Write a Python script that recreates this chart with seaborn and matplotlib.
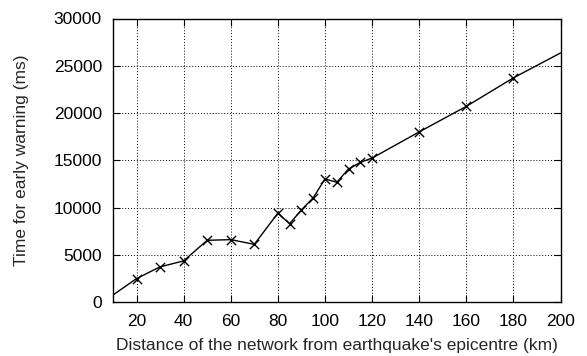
import matplotlib
matplotlib.use("Agg")
import matplotlib.pyplot as plt
import seaborn as sns
import pandas as pd

distance_km = [10, 20, 30, 40, 50, 60, 70, 80, 85, 90, 95, 100, 105, 110, 115, 120, 140, 160, 180, 200]
warning_ms = [740, 2480, 3720, 4350, 6530, 6600, 6100, 9400, 8280, 9750, 11020, 13020, 12670, 14070, 14770, 15230, 18000, 20700, 23720, 26350]
marked = [False] + [True] * 18 + [False]
x_ticks = [20, 40, 60, 80, 100, 120, 140, 160, 180, 200]
y_ticks = [0, 5000, 10000, 15000, 20000, 25000, 30000]

df = pd.DataFrame({"d": distance_km, "t": warning_ms, "m": marked})

sns.set_style("ticks")
plt.rcParams["font.family"] = ["Liberation Sans", "DejaVu Sans"]

fig = plt.figure(figsize=(5.87, 3.56), dpi=100)
ax = fig.add_axes([113 / 587, 1 - 302 / 356, (560.5 - 113) / 587, (302 - 18.5) / 356])

sns.lineplot(data=df, x="d", y="t", ax=ax, color="black", linewidth=1.0, zorder=3)
sns.scatterplot(data=df[df["m"]], x="d", y="t", ax=ax, marker="x", color="black",
                s=45, linewidth=1.0, zorder=4)

ax.set_xlim(10, 200)
ax.set_ylim(0, 30000)
ax.set_xticks(x_ticks)
ax.set_yticks(y_ticks)
ax.grid(True, color="black", linestyle=(0, (1, 2)), linewidth=0.7)
ax.tick_params(direction="in", top=True, right=True, length=5, width=0.8,
               labelsize=12.5, colors="black")
ax.tick_params(axis="x", pad=9)
ax.tick_params(axis="y", pad=8)
for s in ax.spines.values():
    s.set_linewidth(1.0)
    s.set_color("black")
ax.set_xlabel("Distance of the network from earthquake's epicentre (km)", fontsize=12.5, labelpad=6)
ax.set_ylabel("Time for early warning (ms)", fontsize=12.5, labelpad=18)

fig.savefig("out.png", dpi=100)
